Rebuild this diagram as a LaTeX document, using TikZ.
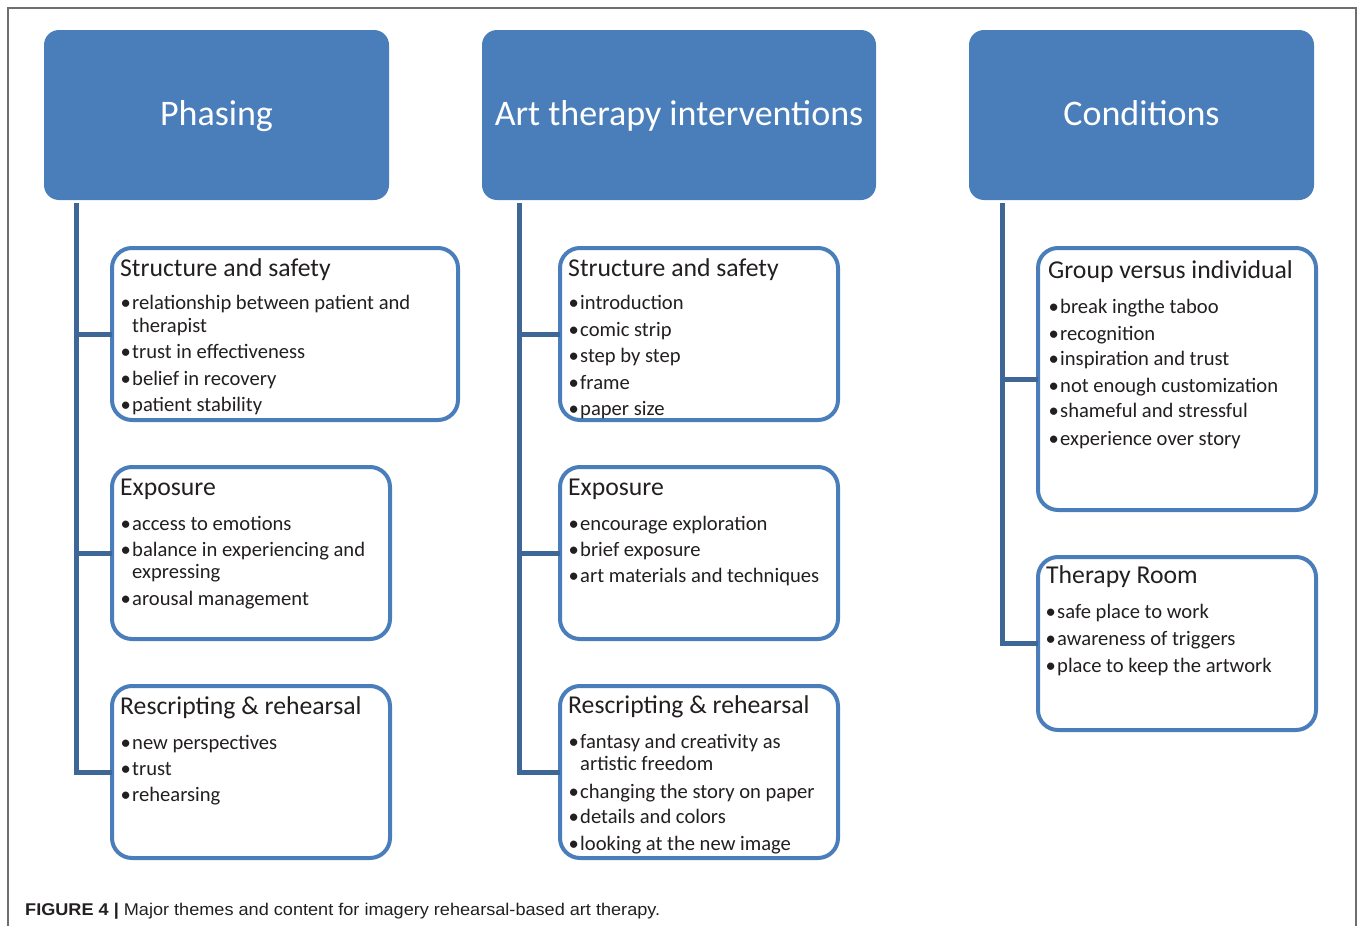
\documentclass[tikz,border=0pt]{standalone}
\usepackage{fontspec}
\usepackage{graphicx}
\setmainfont{Carlito}
\newfontfamily\capfont{Liberation Sans}
\definecolor{hdrblue}{RGB}{74,126,187}
\definecolor{lineblue}{RGB}{62,102,150}
\definecolor{txt}{RGB}{35,31,32}
\definecolor{framegray}{RGB}{110,110,110}
\tikzset{
  hdr/.style={fill=hdrblue, rounded corners=15pt, inner sep=0pt, outer sep=0pt},
  hdrtext/.style={anchor=base, text=white, font=\fontsize{36}{40}\selectfont, inner sep=0pt},
  subbox/.style={draw=hdrblue, line width=4pt, rounded corners=20pt, fill=white, inner sep=0pt, outer sep=0pt},
  conn/.style={draw=lineblue, line width=5pt},
  ttl/.style={anchor=base west, text=txt, font=\fontsize{25.7}{30}\selectfont, inner sep=0pt},
  itx/.style={anchor=base west, text=txt, font=\fontsize{20.6}{24}\selectfont, inner sep=0pt},
  bul/.style={anchor=base west, text=txt, font=\fontsize{20.6}{24}\selectfont, inner sep=0pt},
}
\newcommand\bitem[4]{\node[bul] (#1b) at (#2-11.5,#3) {\textbullet}; \node[itx] (#1) at (#2,#3) {#4};}
\newcommand\citem[4]{\node[itx] (#1) at (#2,#3) {#4};}
\begin{document}
\begin{tikzpicture}[x=1pt,y=-1pt]
\useasboundingbox (0,0) rectangle (1358,926);
% frame
\draw[framegray, line width=1.5pt] (8,926) -- (8,8) -- (1356,8) -- (1356,926);

% headers
\node[hdr, minimum width=345pt, minimum height=170pt] (hP) at (216.5,115) {};
\node[hdr, minimum width=394pt, minimum height=170pt] (hA) at (679,115) {};
\node[hdr, minimum width=345pt, minimum height=170pt] (hC) at (1141.5,115) {};
\node[hdrtext] (hPt) at (216.5,125) {Phasing};
\node[hdrtext] (hAt) at (679,125) {Art therapy interventions};
\node[hdrtext] (hCt) at (1141.5,125) {Conditions};

% sub boxes
\node[subbox, minimum width=346pt, minimum height=172pt] (p1) at (285,334) {};
\node[subbox, minimum width=278pt, minimum height=172pt] (p2) at (251,553) {};
\node[subbox, minimum width=278pt, minimum height=172pt] (p3) at (251,772) {};
\node[subbox, minimum width=278pt, minimum height=172pt] (a1) at (699,334) {};
\node[subbox, minimum width=278pt, minimum height=172pt] (a2) at (699,553) {};
\node[subbox, minimum width=278pt, minimum height=172pt] (a3) at (699,772) {};
\node[subbox, minimum width=278pt, minimum height=262pt] (c1) at (1177,379) {};
\node[subbox, minimum width=278pt, minimum height=173pt] (c2) at (1177,643.5) {};

% connectors
\coordinate (pT) at (76,203);
\coordinate (aT) at (519,203);
\coordinate (cT) at (1002,203);
\draw[conn] (pT) |- (p3.west);
\draw[conn] (pT |- p1.west) -- (p1.west);
\draw[conn] (pT |- p2.west) -- (p2.west);
\draw[conn] (aT) |- (a3.west);
\draw[conn] (aT |- a1.west) -- (a1.west);
\draw[conn] (aT |- a2.west) -- (a2.west);
\draw[conn] (cT) |- (c2.west);
\draw[conn] (cT |- c1.west) -- (c1.west);

% Phasing texts
\node[ttl] (p1t) at (120,276) {Structure and safety};
\bitem{p1i1}{132}{309}{relationship between patient and}
\citem{p1i1b}{132}{332}{therapist}
\bitem{p1i2}{132}{358}{trust in effectiveness}
\bitem{p1i3}{132}{385}{belief in recovery}
\bitem{p1i4}{132}{411}{patient stability}

\node[ttl] (p2t) at (120,495) {Exposure};
\bitem{p2i1}{132}{530}{access to emotions}
\bitem{p2i2}{132}{556}{balance in experiencing and}
\citem{p2i2b}{132}{578}{expressing}
\bitem{p2i3}{132}{605}{arousal management}

\node[ttl] (p3t) at (120,714) {Rescripting \& rehearsal};
\bitem{p3i1}{132}{749}{new perspectives}
\bitem{p3i2}{132}{775}{trust}
\bitem{p3i3}{132}{801}{rehearsing}

% Art therapy texts
\node[ttl] (a1t) at (568,276) {Structure and safety};
\bitem{a1i1}{580}{309}{introduction}
\bitem{a1i2}{580}{336}{comic strip}
\bitem{a1i3}{580}{362}{step by step}
\bitem{a1i4}{580}{389}{frame}
\bitem{a1i5}{580}{415}{paper size}

\node[ttl] (a2t) at (568,495) {Exposure};
\bitem{a2i1}{580}{530}{encourage exploration}
\bitem{a2i2}{580}{556}{brief exposure}
\bitem{a2i3}{580}{582}{art materials and techniques}

\node[ttl] (a3t) at (568,713) {Rescripting \& rehearsal};
\bitem{a3i1}{580}{748}{fantasy and creativity as}
\citem{a3i1b}{580}{770}{artistic freedom}
\bitem{a3i2}{580}{798}{changing the story on paper}
\bitem{a3i3}{580}{823}{details and colors}
\bitem{a3i4}{580}{850}{looking at the new image}

% Conditions texts
\node[ttl] (c1t) at (1048,278) {Group versus individual};
\bitem{c1i1}{1060}{313}{break ingthe taboo}
\bitem{c1i2}{1060}{340}{recognition}
\bitem{c1i3}{1060}{365}{inspiration and trust}
\bitem{c1i4}{1060}{392}{not enough customization}
\bitem{c1i5}{1060}{417}{shameful and stressful}
\bitem{c1i6}{1060}{445}{experience over story}

\node[ttl] (c2t) at (1046,583) {Therapy Room};
\bitem{c2i1}{1057}{618}{safe place to work}
\bitem{c2i2}{1057}{645}{awareness of triggers}
\bitem{c2i3}{1057}{672}{place to keep the artwork}

% caption
\node[anchor=base west, inner sep=0pt, text=txt, font=\capfont\fontsize{17}{20}\selectfont] (cap) at (25,915)
  {\resizebox{635pt}{\height}{\textbf{FIGURE 4 |} Major themes and content for imagery rehearsal-based art therapy.}};
\end{tikzpicture}
\end{document}
